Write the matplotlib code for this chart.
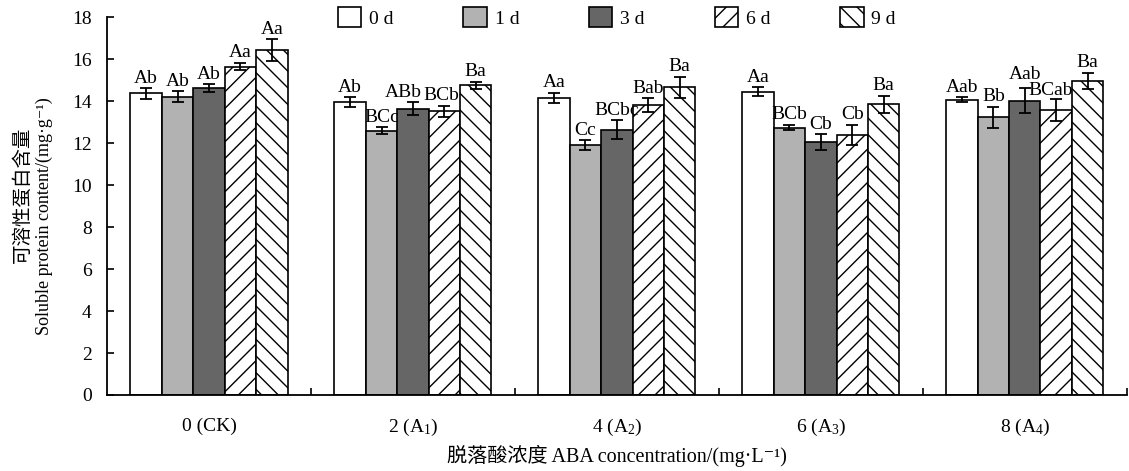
""" Soluble protein content under ABA treatments """

import numpy as np
import matplotlib
matplotlib.use('Agg')
import matplotlib.pyplot as plt

groups = ['0 (CK)', '2 (A$_1$)', '4 (A$_2$)', '6 (A$_3$)', '8 (A$_4$)']
days = ['0 d', '1 d', '3 d', '6 d', '9 d']

# one list per storage day, values for the five ABA concentrations
day0 = [14.38, 13.95, 14.17, 14.46, 14.08]
day1 = [14.22, 12.60, 11.92, 12.75, 13.24]
day3 = [14.62, 13.65, 12.65, 12.05, 14.03]
day6 = [15.66, 13.52, 13.82, 12.40, 13.59]
day9 = [16.44, 14.77, 14.67, 13.86, 14.98]

err0 = [0.25, 0.24, 0.25, 0.21, 0.11]
err1 = [0.25, 0.18, 0.24, 0.13, 0.51]
err3 = [0.19, 0.32, 0.44, 0.38, 0.59]
err6 = [0.19, 0.27, 0.33, 0.48, 0.51]
err9 = [0.52, 0.17, 0.51, 0.41, 0.38]

lab0 = ['Ab', 'Ab', 'Aa', 'Aa', 'Aab']
lab1 = ['Ab', 'BCc', 'Cc', 'BCb', 'Bb']
lab3 = ['Ab', 'ABb', 'BCbc', 'Cb', 'Aab']
lab6 = ['Aa', 'BCb', 'Bab', 'Cb', 'BCab']
lab9 = ['Aa', 'Ba', 'Ba', 'Ba', 'Ba']

values = [day0, day1, day3, day6, day9]
errors = [err0, err1, err3, err6, err9]
letters = [lab0, lab1, lab3, lab6, lab9]
colors = ['white', '#b2b2b2', '#666666', 'white', 'white']
hatches = ['', '', '', '//', '\\\\']

fonts = ['Liberation Serif', 'DejaVu Serif', 'Noto Sans CJK SC']
plt.rcParams['font.family'] = fonts
plt.rcParams['mathtext.fontset'] = 'custom'
plt.rcParams['mathtext.rm'] = 'Liberation Serif'
plt.rcParams['mathtext.it'] = 'Liberation Serif:italic'
plt.rcParams['hatch.linewidth'] = 1.0
plt.rcParams['font.size'] = 14

fig = plt.figure(figsize=(11.29, 4.71), dpi=100)
ax = fig.add_axes([0.0948, 0.1614, 0.9032, 0.8016])

# small nudges (points) for crowded letters: (day, group) -> (dx, dy)
nudge = {(2, 1): (-7, 1), (3, 1): (-2, 1), (3, 4): (-4, 0), (2, 4): (0, 4)}

x = np.arange(len(groups))
w = 0.154
for j in range(len(days)):
    pos = x + (j - 2) * w
    ax.bar(pos, values[j], w, color=colors[j], edgecolor='black',
           linewidth=1.2, hatch=hatches[j], label=days[j], zorder=2)
    ax.errorbar(pos, values[j], yerr=errors[j], fmt='none', ecolor='black',
                elinewidth=1.3, capsize=4.5, capthick=1.3, zorder=3)
    for k in range(len(groups)):
        ax.annotate(letters[j][k], (pos[k], values[j][k] + errors[j][k]),
                    xytext=nudge.get((j, k), (0, 1)),
                    textcoords='offset points',
                    ha='center', va='bottom', fontsize=14)

ax.set_xlim(-0.5, 4.5)
ax.set_ylim(0, 18)
ax.set_yticks(range(0, 19, 2))
ax.set_xticks(x)
ax.set_xticklabels(groups)
ax.set_xticks(np.arange(0.5, 5.0, 1.0), minor=True)
ax.tick_params(axis='x', which='major', length=0, pad=16)
ax.tick_params(axis='x', which='minor', direction='in', length=5, width=1.2)
ax.tick_params(axis='y', direction='in', length=5, width=1.2, pad=11)
ax.spines['top'].set_visible(False)
ax.spines['right'].set_visible(False)
ax.spines['left'].set_linewidth(1.3)
ax.spines['bottom'].set_linewidth(1.3)

fig.text(0.0195, 0.586, '可溶性蛋白含量', rotation=90, ha='center',
         va='center', fontsize=14)
fig.text(0.039, 0.541, 'Soluble protein content/(mg·g⁻¹)', rotation=90,
         ha='center', va='center', fontsize=13)
ax.set_xlabel('脱落酸浓度 ABA concentration/(mg·L⁻¹)', labelpad=5,
              fontsize=14.5)

ax.legend(loc='center', bbox_to_anchor=(0.5, 1.0), ncol=5, frameon=False,
          handlelength=1.2, handleheight=1.2, handletextpad=0.4,
          columnspacing=3.6, fontsize=14)

plt.savefig('out.png')
